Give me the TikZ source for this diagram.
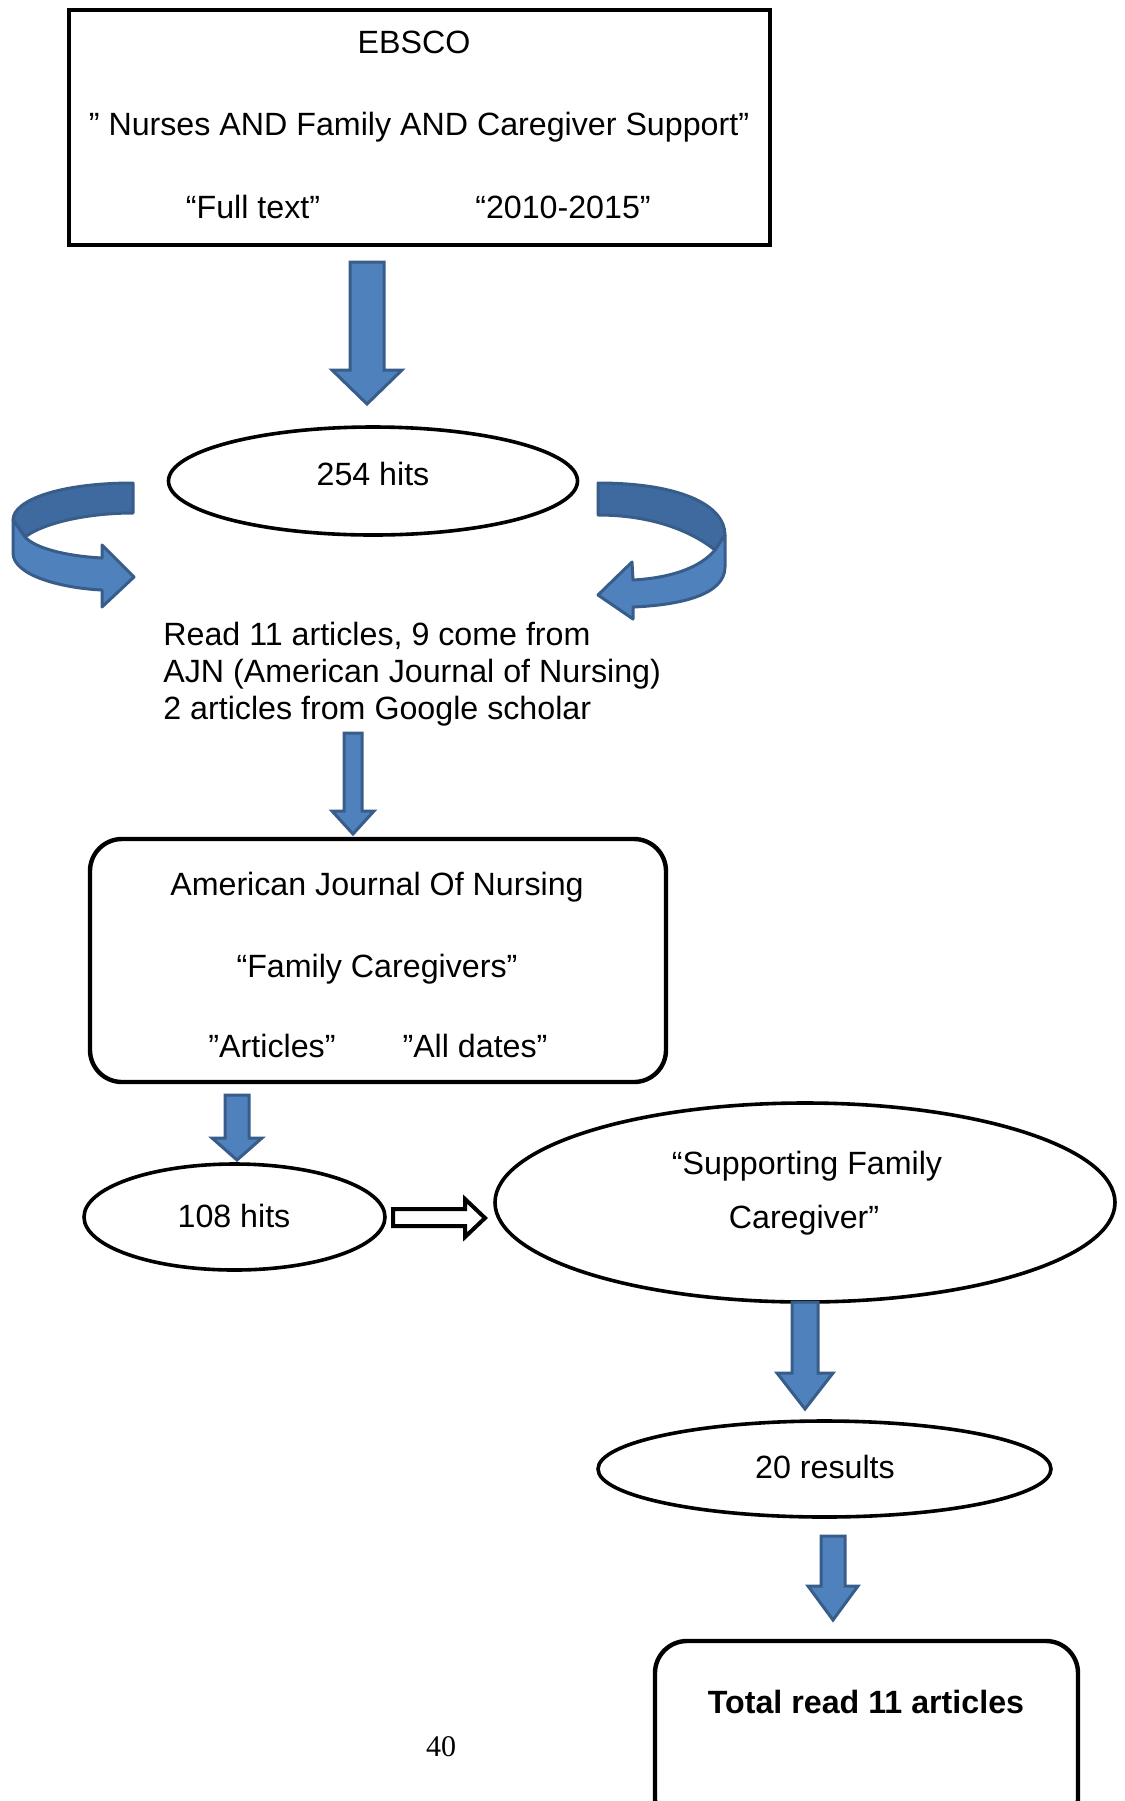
\documentclass[tikz,border=0pt]{standalone}
\usepackage{fontspec}
\setmainfont{Liberation Sans}
\newfontfamily\serifpage{Liberation Serif}
\usetikzlibrary{shapes.geometric}
\definecolor{arrfill}{HTML}{4F81BD}
\definecolor{arrdark}{HTML}{3E6A9F}
\definecolor{arrline}{HTML}{385D8A}
\newcommand\myblockarrow[6]{%
  \fill[arrfill,draw=arrline,line width=1.5pt,line join=miter]
  (#1-#5,#2) -- (#1+#5,#2) -- (#1+#5,#3) -- (#1+#6,#3) -- (#1,#4)
  -- (#1-#6,#3) -- (#1-#5,#3) -- cycle;}
\tikzset{
  txt/.style={font=\fontsize{16.1}{19}\selectfont, inner sep=0pt, anchor=base},
  sqbox/.style={draw, line width=2.2pt, inner sep=0pt},
  rbox/.style={draw, line width=2.2pt, inner sep=0pt, rounded corners=16pt},
  oval/.style={ellipse, draw, line width=1.8pt, inner sep=0pt},
}
\begin{document}
\begin{tikzpicture}[x=0.5pt,y=-0.5pt]
\useasboundingbox (0,0) rectangle (1125,1801);
% top box
\node[sqbox, minimum width=350.5pt, minimum height=117.5pt] (ebsco) at (419.5,127.5) {};
\node[txt] (t1) at (414,53) {EBSCO};
\node[txt] (t2) at (419,135) {” Nurses AND Family AND Caregiver Support”};
\node[txt] (t3) at (253,218) {“Full text”};
\node[txt] (t4) at (563,218) {“2010-2015”};
\myblockarrow{367}{262}{370}{404}{17}{35}
% 254 hits
\node[oval, minimum width=204.5pt, minimum height=54pt] (hits254) at (373,481) {};
\node[txt] (h254) at (373,485) {254 hits};
% left curved arrow
\fill[arrdark,draw=arrline,line width=1.5pt,line join=round]
 (133,483) .. controls (60,483) and (13,500) .. (13,520) -- (25,537)
 .. controls (45,522) and (90,513) .. (133,513) -- cycle;
\fill[arrfill,draw=arrline,line width=1.5pt,line join=round]
 (13,520) -- (13,553) .. controls (13,575) and (60,588) .. (102,590)
 -- (102,607) -- (134,577) -- (102,545) -- (102,558)
 .. controls (65,556) and (35,548) .. (25,537) -- cycle;
% right curved arrow
\fill[arrdark,draw=arrline,line width=1.5pt,line join=round]
 (598,483) .. controls (680,483) and (725,505) .. (725,535) -- (715,550)
 .. controls (690,530) and (650,515) .. (598,515) -- cycle;
\fill[arrfill,draw=arrline,line width=1.5pt,line join=round]
 (725,535) -- (725,567) .. controls (725,595) and (680,605) .. (633,607)
 -- (633,619) -- (598,595) -- (632,562) -- (633,580)
 .. controls (670,578) and (700,568) .. (715,550) -- cycle;
% reading text
\node[txt, anchor=base west] (read1) at (163,645) {Read 11 articles, 9 come from};
\node[txt, anchor=base west] (read2) at (163,682) {AJN (American Journal of Nursing)};
\node[txt, anchor=base west] (read3) at (163,719) {2 articles from Google scholar};
\myblockarrow{353}{733}{811}{834}{9}{21}
% AJN box
\node[rbox, minimum width=288pt, minimum height=121.5pt] (ajn) at (378,960.5) {};
\node[txt] (a1) at (377,895) {American Journal Of Nursing};
\node[txt] (a2) at (377,977) {“Family Caregivers”};
\node[txt] (a3) at (272,1057) {”Articles”};
\node[txt] (a4) at (475,1057) {”All dates”};
\myblockarrow{237}{1095}{1138}{1160}{12}{25}
% 108 hits
\node[oval, minimum width=150.5pt, minimum height=53pt] (hits108) at (234.5,1217) {};
\node[txt] (h108) at (234,1227) {108 hits};
% hollow arrow
\draw[line width=2pt, line join=miter] (393,1209) -- (465,1209) -- (465,1199) -- (485,1218)
 -- (465,1237) -- (465,1226) -- (393,1226) -- cycle;
% supporting ellipse
\node[oval, minimum width=310pt, minimum height=99.5pt] (supp) at (805,1202.5) {};
\node[txt] (s1) at (807,1174) {“Supporting Family};
\node[txt] (s2) at (804,1228) {Caregiver”};
\myblockarrow{805}{1302}{1373}{1409}{13}{28}
% 20 results
\node[oval, minimum width=226.5pt, minimum height=48pt] (res20) at (824.5,1469) {};
\node[txt] (r20) at (825,1478) {20 results};
\myblockarrow{833}{1536}{1586}{1620}{12}{25}
% total box
\node[rbox, minimum width=211.5pt, minimum height=95pt] (total) at (866.5,1736) {};
\node[txt, font=\fontsize{16.1}{19}\selectfont\bfseries] (tot) at (866,1713) {Total read 11 articles};
% page number
\node[txt, font=\fontsize{15}{18}\serifpage] (page) at (441,1756) {40};
\end{tikzpicture}
\end{document}
